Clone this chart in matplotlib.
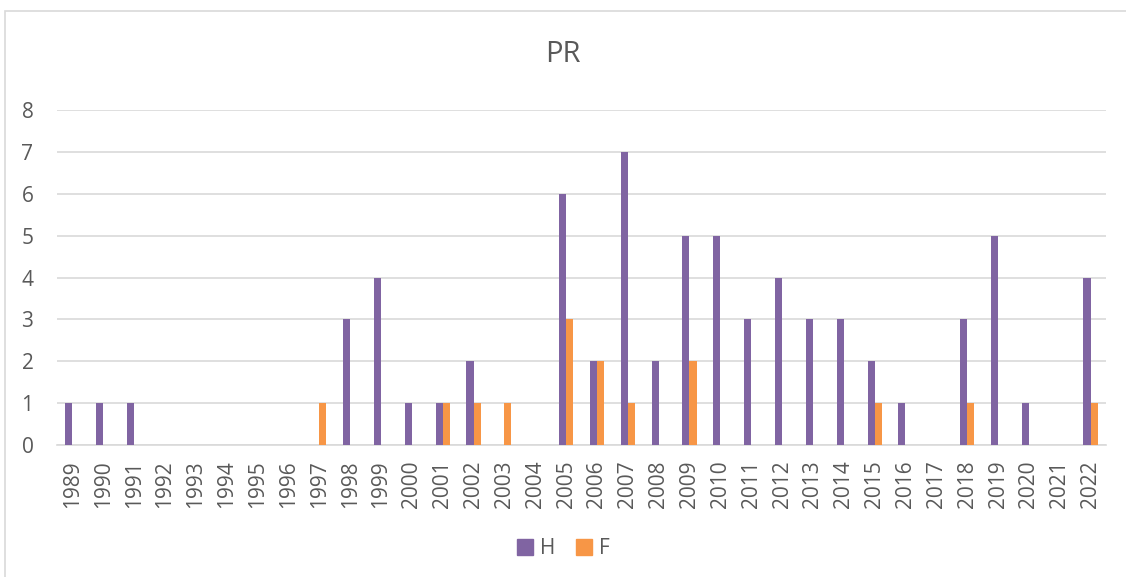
import numpy as np
import matplotlib.pyplot as plt
from matplotlib.patches import Rectangle
from matplotlib.lines import Line2D

plt.rcParams['font.family'] = ['Open Sans', 'DejaVu Sans']

years = [str(y) for y in range(1989, 2023)]
h_vals = [1, 1, 1, 0, 0, 0, 0, 0, 0, 3, 4, 1, 1, 2, 0, 0, 6, 2, 7, 2,
          5, 5, 3, 4, 3, 3, 2, 1, 0, 3, 5, 1, 0, 4]
f_vals = [0, 0, 0, 0, 0, 0, 0, 0, 1, 0, 0, 0, 1, 1, 1, 0, 3, 2, 1, 0,
          2, 0, 0, 0, 0, 0, 1, 0, 0, 1, 0, 0, 0, 1]

purple = "#8064A2"
orange = "#F79646"
txt = "#595959"
grid = "#D9D9D9"

fig = plt.figure(figsize=(11.26, 5.77), dpi=100)
fig.patches.append(Rectangle((5 / 1126, -0.1), 1.2, 1 - 11 / 577 + 0.1,
                             transform=fig.transFigure, fill=False,
                             edgecolor=grid, linewidth=1.2))

ax = fig.add_axes([57 / 1126, 1 - 445 / 577, (1106 - 57) / 1126, 335 / 577])
x = np.arange(len(years))
w = 0.23
ax.bar(x - w / 2, h_vals, w, color=purple, label="H", zorder=3)
ax.bar(x + w / 2, f_vals, w, color=orange, label="F", zorder=3)

ax.set_xlim(-0.5, len(years) - 0.5)
ax.set_ylim(0, 8)
ax.set_yticks(range(0, 9))
ax.set_xticks(x)
ax.set_xticklabels(years, rotation=90)
ax.tick_params(axis='both', length=0, colors=txt, labelsize=15)
ax.tick_params(axis='y', pad=17)
ax.tick_params(axis='x', pad=11)
ax.grid(axis='y', color=grid, linewidth=1.2, zorder=0)
for s in ['top', 'right', 'left']:
    ax.spines[s].set_visible(False)
ax.spines['bottom'].set_color(grid)
ax.spines['bottom'].set_linewidth(1.2)

fig.text(0.5, 1 - 55 / 577, "PR", ha='center', va='center', fontsize=21, color=txt)

handles = [Line2D([], [], marker='s', linestyle='', color=purple, markersize=11),
           Line2D([], [], marker='s', linestyle='', color=orange, markersize=11)]
fig.legend(handles, ["H", "F"], loc='center', bbox_to_anchor=(0.5, 1 - 549 / 577),
           ncol=2, frameon=False, fontsize=15, labelcolor=txt,
           handlelength=0.8, handletextpad=0.3, columnspacing=1.0)

fig.savefig("out.png", dpi=100)
